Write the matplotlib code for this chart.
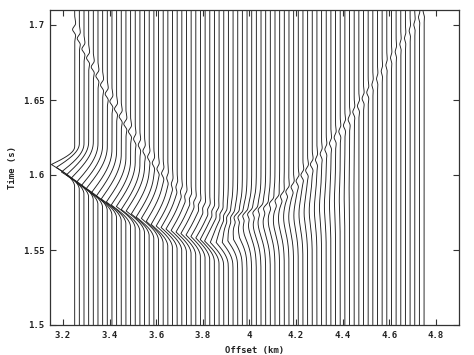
import numpy as np
import matplotlib
matplotlib.use("Agg")
import matplotlib.pyplot as plt

# ---- data -----------------------------------------------------------------
# trace offsets (km): 76 traces, 3.25 ... 4.75
offsets = np.round(3.25 + 0.02 * np.arange(76), 2)

# strong event A: peak time (s), leftward amplitude (km), decay length (s)
t_a = [1.607, 1.605, 1.602, 1.600, 1.598, 1.595, 1.593, 1.591, 1.588, 1.586,
       1.584, 1.582, 1.580, 1.579, 1.577, 1.576, 1.574, 1.572, 1.571, 1.569,
       1.567, 1.566, 1.565, 1.564, 1.563, 1.562, 1.561, 1.560, 1.559, 1.558,
       1.557, 1.556, 1.555, 1.555, 1.555, 1.556, 1.557, 1.558, 1.560, 1.562,
       1.563, 1.565, 1.566, 1.567, 1.568, 1.569, 1.570, 1.571, 1.571, 1.572,
       1.573, 1.574, 1.574, 1.575, 1.576, 1.577, 1.578, 1.579, 1.580, 1.581,
       1.582, 1.583, 1.584, 1.585, 1.585, 1.585, 1.585, 1.585, 1.585, 1.585,
       1.585, 1.585, 1.585, 1.585, 1.585, 1.585]
amp_a = [0.100, 0.099, 0.097, 0.096, 0.094, 0.093, 0.091, 0.090, 0.089, 0.087,
         0.086, 0.084, 0.083, 0.081, 0.080, 0.079, 0.077, 0.076, 0.074, 0.073,
         0.072, 0.070, 0.069, 0.068, 0.066, 0.065, 0.064, 0.062, 0.061, 0.060,
         0.058, 0.057, 0.050, 0.042, 0.034, 0.026, 0.018, 0.010, 0.004, 0.0,
         0.0, 0.0, 0.0, 0.0, 0.0, 0.0, 0.0, 0.0, 0.0, 0.0,
         0.0, 0.0, 0.0, 0.0, 0.0, 0.0, 0.0, 0.0, 0.0, 0.0,
         0.0, 0.0, 0.0, 0.0, 0.0, 0.0, 0.0, 0.0, 0.0, 0.0,
         0.0, 0.0, 0.0, 0.0, 0.0, 0.0]
decay_a = [0.012, 0.016, 0.019, 0.022, 0.024, 0.026, 0.027, 0.028, 0.029, 0.030,
           0.030, 0.030, 0.030, 0.030, 0.030, 0.030, 0.030, 0.030, 0.030, 0.030,
           0.030, 0.029, 0.029, 0.028, 0.028, 0.027, 0.027, 0.026, 0.026, 0.025,
           0.025, 0.024, 0.024, 0.023, 0.023, 0.022, 0.022, 0.022, 0.022, 0.022,
           0.022, 0.022, 0.022, 0.022, 0.022, 0.022, 0.022, 0.022, 0.022, 0.022,
           0.022, 0.022, 0.022, 0.022, 0.022, 0.022, 0.022, 0.022, 0.022, 0.022,
           0.022, 0.022, 0.022, 0.022, 0.022, 0.022, 0.022, 0.022, 0.022, 0.022,
           0.022, 0.022, 0.022, 0.022, 0.022, 0.022]

# smooth bulge C near the bottom of the U: centre time (s), amplitude (km)
t_c = [1.565] * 30 + [
       1.565, 1.565, 1.565, 1.565, 1.566, 1.566, 1.566, 1.567, 1.567, 1.568,
       1.568, 1.569, 1.569, 1.570, 1.570, 1.571, 1.572, 1.572, 1.573, 1.574,
       1.575, 1.576, 1.577, 1.578, 1.579, 1.580, 1.582, 1.583, 1.585, 1.586,
       1.588, 1.590, 1.592] + [1.592] * 13
amp_c = [0.0] * 30 + [
         0.004, 0.008, 0.013, 0.018, 0.023, 0.027, 0.030, 0.033, 0.035, 0.035,
         0.034, 0.033, 0.031, 0.029, 0.027, 0.025, 0.023, 0.021, 0.019, 0.017,
         0.015, 0.013, 0.011, 0.009, 0.008, 0.006, 0.005, 0.004, 0.003, 0.002,
         0.001, 0.0, 0.0] + [0.0] * 13

# weak curved event B (U shape): time (s) and amplitude (km)
t_b = [1.697, 1.691, 1.684, 1.678, 1.672, 1.666, 1.660, 1.654, 1.649, 1.644,
       1.639, 1.634, 1.629, 1.624, 1.620, 1.616, 1.612, 1.608, 1.604, 1.601,
       1.598, 1.594, 1.592, 1.589, 1.586, 1.584, 1.582, 1.580, 1.578, 1.577,
       1.576, 1.575, 1.574, 1.573, 1.572, 1.572, 1.572, 1.572, 1.573, 1.574,
       1.575, 1.577, 1.578, 1.581, 1.583, 1.586, 1.589, 1.592, 1.596, 1.600,
       1.603, 1.607, 1.610, 1.614, 1.617, 1.621, 1.625, 1.629, 1.633, 1.637,
       1.642, 1.646, 1.651, 1.655, 1.660, 1.664, 1.669, 1.673, 1.678, 1.682,
       1.687, 1.691, 1.696, 1.700, 1.705, 1.709]
amp_b = ([0.009] * 13 + [0.007] * 7 + [0.005] * 16 +
         [0.008] * 16 + [0.006] * 12 + [0.004] * 12)

x_ticks = [3.2, 3.4, 3.6, 3.8, 4.0, 4.2, 4.4, 4.6, 4.8]
x_labels = ["3.2", "3.4", "3.6", "3.8", "4", "4.2", "4.4", "4.6", "4.8"]
y_ticks = [1.5, 1.55, 1.6, 1.65, 1.7]
y_labels = ["1.5", "1.55", "1.6", "1.65", "1.7"]

# ---- wavelet shapes ---------------------------------------------------------
RISE = 0.015
SIGMA_C = 0.010
time = np.linspace(1.5, 1.71, 2101)


def event_a(t, t0, a, decay):
    d = np.zeros_like(t)
    u = (t - (t0 - RISE)) / RISE
    m = (u >= 0) & (u <= 1)
    d[m] = 1 - np.cos(np.pi / 2 * u[m])
    v = (t - t0) / decay
    m2 = (v > 0) & (v <= 1)
    d[m2] = 1 - np.sin(np.pi / 2 * v[m2])
    return -a * d


def event_b(t, t0, a, f=90.0):
    s = (np.pi * f * (t - t0)) ** 2
    return -a * (1 - 2 * s) * np.exp(-s)


def event_c(t, t0, a):
    return -a * np.exp(-0.5 * ((t - t0) / SIGMA_C) ** 2)


# ---- figure -----------------------------------------------------------------
W, H = 474, 355
fig = plt.figure(figsize=(W / 100, H / 100), dpi=100)
ax = fig.add_axes([50 / W, 30 / H, 409 / W, 315 / H])

for i, x0 in enumerate(offsets):
    dx = (event_a(time, t_a[i], amp_a[i], decay_a[i])
          + event_b(time, t_b[i], amp_b[i])
          + event_c(time, t_c[i], amp_c[i]))
    ax.plot(x0 + dx, time, color="#1e1e1e", lw=0.65, solid_capstyle="butt")

ax.set_xlim(3.144, 4.9)
ax.set_ylim(1.5, 1.71)
ax.set_xticks(x_ticks)
ax.set_xticklabels(x_labels)
ax.set_yticks(y_ticks)
ax.set_yticklabels(y_labels)

font = dict(family="DejaVu Sans Mono", weight="bold", size=6.5)
for lab in ax.get_xticklabels() + ax.get_yticklabels():
    lab.set_fontfamily(font["family"])
    lab.set_fontweight(font["weight"])
    lab.set_fontsize(font["size"])
    lab.set_color("#222222")

ax.tick_params(direction="in", top=True, right=True, length=4, width=0.8,
               color="#333333", pad=4)
for s in ax.spines.values():
    s.set_linewidth(0.9)
    s.set_color("#333333")

fig.text(254.5 / W, 1 - 350 / H, "Offset (km)", ha="center", va="center",
         color="#222222", **font)
fig.text(12 / W, 1 - 167.5 / H, "Time (s)", ha="center", va="center",
         rotation=90, color="#222222", **font)

fig.savefig("out.png", dpi=100)
